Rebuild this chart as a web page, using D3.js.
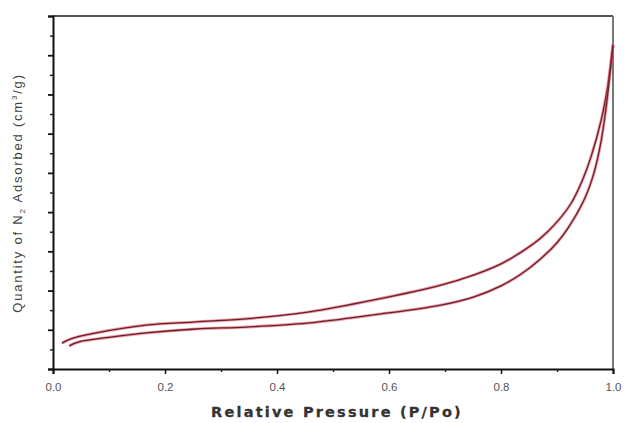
<!DOCTYPE html>
<html>
<head>
<meta charset="utf-8">
<script src="https://cdn.jsdelivr.net/npm/d3@7"></script>
<style>
  html, body { margin: 0; padding: 0; background: #fff; }
  svg { display: block; }
</style>
</head>
<body>
<svg id="chart" width="624" height="423"></svg>
<script>
// ---- data (relative pressure P/Po, quantity adsorbed in arbitrary axis units) ----
const desorptionP = [0.016, 0.032, 0.077, 0.166, 0.255, 0.345, 0.455, 0.573, 0.693, 0.752, 0.800, 0.836, 0.871, 0.900, 0.925, 0.945, 0.961, 0.979, 0.991, 1.0];
const desorptionQ = [0.66, 0.77, 0.92, 1.12, 1.20, 1.28, 1.45, 1.76, 2.14, 2.40, 2.68, 2.98, 3.34, 3.75, 4.22, 4.80, 5.42, 6.35, 7.25, 8.26];
const adsorptionP = [0.029, 0.046, 0.107, 0.166, 0.255, 0.345, 0.455, 0.573, 0.693, 0.752, 0.800, 0.836, 0.870, 0.900, 0.920, 0.948, 0.965, 0.978, 0.988, 0.995, 1.0];
const adsorptionQ = [0.59, 0.69, 0.82, 0.92, 1.02, 1.07, 1.17, 1.38, 1.63, 1.84, 2.12, 2.42, 2.80, 3.22, 3.60, 4.30, 4.95, 5.75, 6.70, 7.60, 8.26];
const xTickLabels = ["0.0", "0.2", "0.4", "0.6", "0.8", "1.0"];
const xMajor = [0, 0.2, 0.4, 0.6, 0.8, 1.0];
const xMinor = [0.1, 0.3, 0.5, 0.7, 0.9];
const yMajor = [0, 1, 2, 3, 4, 5, 6, 7, 8, 9];
const yMinor = [0.5, 1.5, 2.5, 3.5, 4.5, 5.5, 6.5, 7.5, 8.5];

const svg = d3.select("#chart");
const L = 53, R = 613, T = 16, B = 369;
const x = d3.scaleLinear().domain([0, 1]).range([L, R]);
const y = d3.scaleLinear().domain([0, 9]).range([B, T]);

// frame: top and right
svg.append("line").attr("x1", L).attr("x2", R).attr("y1", T).attr("y2", T)
  .attr("stroke", "#555").attr("stroke-width", 2);
svg.append("line").attr("x1", R).attr("x2", R).attr("y1", T).attr("y2", B)
  .attr("stroke", "#777").attr("stroke-width", 2);

// bottom axis
const xAxisMajor = d3.axisBottom(x).tickValues(xMajor).tickSize(5).tickFormat((d, i) => xTickLabels[i]);
const gx = svg.append("g").attr("transform", `translate(0,${B})`).call(xAxisMajor);
gx.select(".domain").attr("stroke", "#111").attr("stroke-width", 2);
gx.selectAll(".tick line").attr("stroke", "#111").attr("stroke-width", 1.5);
gx.selectAll(".tick text").attr("font-family", "Arial, 'Liberation Sans', sans-serif")
  .attr("font-size", 11.5).attr("fill", "#555").attr("dy", "1.2em");
const gxm = svg.append("g").attr("transform", `translate(0,${B})`)
  .call(d3.axisBottom(x).tickValues(xMinor).tickSize(3).tickFormat(""));
gxm.select(".domain").remove();
gxm.selectAll(".tick line").attr("stroke", "#222").attr("stroke-width", 1.5);

// left axis
const gy = svg.append("g").attr("transform", `translate(${L},0)`)
  .call(d3.axisLeft(y).tickValues(yMajor).tickSize(5).tickFormat(""));
gy.select(".domain").attr("stroke", "#111").attr("stroke-width", 2);
gy.selectAll(".tick line").attr("stroke", "#111").attr("stroke-width", 1.8);
const gym = svg.append("g").attr("transform", `translate(${L},0)`)
  .call(d3.axisLeft(y).tickValues(yMinor).tickSize(3).tickFormat(""));
gym.select(".domain").remove();
gym.selectAll(".tick line").attr("stroke", "#222").attr("stroke-width", 1.5);

// curves
const line = d3.line().x(d => x(d[0])).y(d => y(d[1])).curve(d3.curveCatmullRom.alpha(0.5));
const series = [
  d3.zip(desorptionP, desorptionQ),
  d3.zip(adsorptionP, adsorptionQ)
];
series.forEach(s => {
  svg.append("path").datum(s).attr("d", line).attr("fill", "none")
    .attr("stroke", "#e0485a").attr("stroke-width", 3).attr("stroke-opacity", 0.55);
  svg.append("path").datum(s).attr("d", line).attr("fill", "none")
    .attr("stroke", "#6a1f2a").attr("stroke-width", 1.3);
});

// axis titles
svg.append("text").attr("x", 337).attr("y", 417)
  .attr("text-anchor", "middle")
  .attr("font-family", "'DejaVu Sans', Arial, sans-serif")
  .attr("font-weight", "bold").attr("font-size", 14.5)
  .attr("letter-spacing", 2.2).attr("fill", "#333")
  .attr("stroke", "#333").attr("stroke-width", 0.3)
  .text("Relative Pressure (P/Po)");

const yt = svg.append("text")
  .attr("transform", `translate(22,${(70 + 316) / 2}) rotate(-90)`)
  .attr("text-anchor", "middle")
  .attr("font-family", "Arial, 'Liberation Sans', sans-serif")
  .attr("font-size", 13).attr("letter-spacing", 1.8).attr("fill", "#444");
yt.append("tspan").text("Quantity of N");
yt.append("tspan").attr("font-size", 8).attr("dy", 3).text("2");
yt.append("tspan").attr("dy", -3).text(" Adsorbed (cm");
yt.append("tspan").attr("font-size", 8).attr("dy", -5).text("3");
yt.append("tspan").attr("dy", 5).text("/g)");
</script>
</body>
</html>
